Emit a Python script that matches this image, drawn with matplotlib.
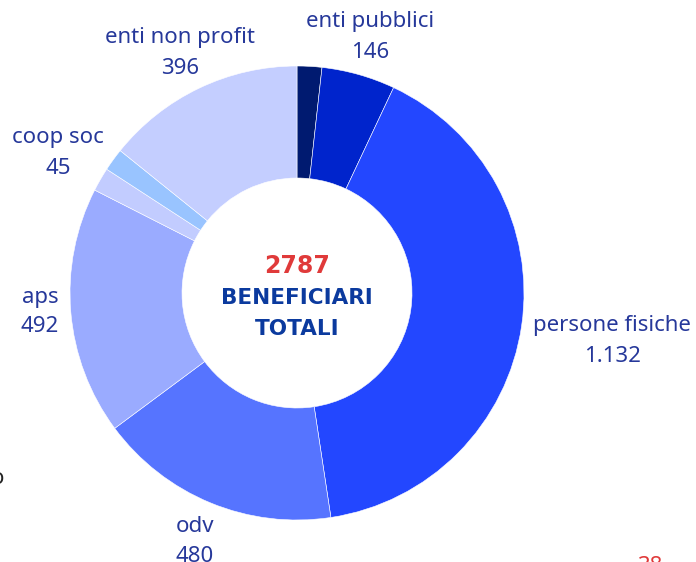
import matplotlib
matplotlib.use("Agg")
import matplotlib.pyplot as plt

categories = ["", "enti pubblici", "persone fisiche", "odv", "aps", "", "coop soc", "enti non profit"]
values = [49, 146, 1132, 480, 492, 47, 45, 396]
value_labels = ["", "146", "1.132", "480", "492", "", "45", "396"]
colors = ["#001A70", "#0024CC", "#2347FF", "#5674FF", "#9AABFF", "#C2CCFF", "#99C4FF", "#C4CEFF"]
total_label = "2787"

# label positions in pixel coordinates (x, y from top)
label_pos = [None, (370, 22), (612, 326), (195, 526), (40, 297), None, (58, 138), (180, 38)]

W, H = 696, 562
fig = plt.figure(figsize=(W / 100, H / 100), dpi=100)
ax = fig.add_axes([0, 0, 1, 1])

cx, cy, R, r_in = 297, H - 293, 227, 115
ax.pie(values, colors=colors, startangle=90, counterclock=False,
       center=(cx, cy), radius=R, frame=True,
       wedgeprops=dict(width=R - r_in, edgecolor="white", linewidth=0.4))
ax.set_xlim(0, W)
ax.set_ylim(0, H)
ax.set_aspect("equal")
ax.axis("off")

font = "Noto Sans"
bold_font = "DejaVu Sans"
lab_col = "#26389A"
for cat, vl, pos in zip(categories, value_labels, label_pos):
    if pos is None:
        continue
    x, y = pos
    ax.text(x, H - y, cat, ha="center", va="center", fontsize=16, color=lab_col, family=font)
    ax.text(x, H - y - 30, vl, ha="center", va="center", fontsize=16, color=lab_col, family=font)

ax.text(cx, H - 266, total_label, ha="center", va="center", fontsize=17, fontweight="bold",
        color="#E03A3A", family=bold_font)
ax.text(cx, H - 298, "BENEFICIARI", ha="center", va="center", fontsize=15.5, fontweight="bold",
        color="#0B3A9E", family=bold_font)
ax.text(cx, H - 329, "TOTALI", ha="center", va="center", fontsize=15.5, fontweight="bold",
        color="#0B3A9E", family=bold_font)

# cut-off elements at the edges of the original image
ax.text(650, H - 566, "38", ha="center", va="center", fontsize=16, color="#E03A3A", family=font)
ax.text(4, H - 478, "o", ha="right", va="center", fontsize=16, color="#222222", family=font)

fig.savefig("out.png", dpi=100)
